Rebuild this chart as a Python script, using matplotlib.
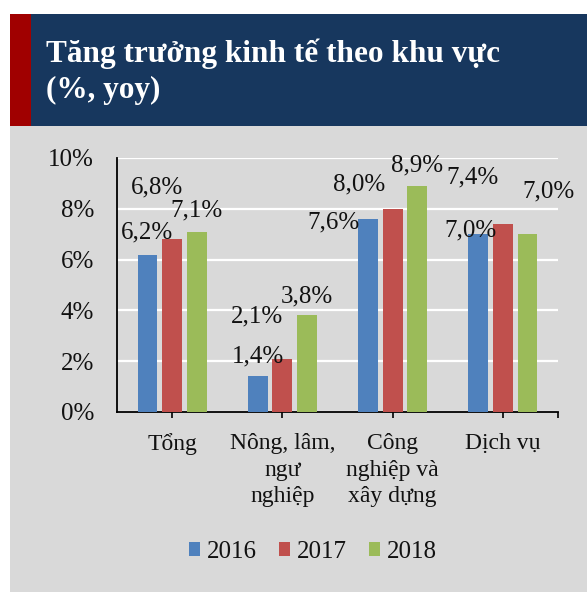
import numpy as np
import matplotlib
matplotlib.use("Agg")
import matplotlib.pyplot as plt
from matplotlib.patches import Rectangle

TITLE_LINES = ["Tăng trưởng kinh tế theo khu vực", "(%, yoy)"]
CATEGORIES = ["Tổng", "Nông, lâm,\nngư\nnghiệp", "Công\nnghiệp và\nxây dựng", "Dịch vụ"]
YEARS = ["2016", "2017", "2018"]
VALUES_2016 = [6.2, 1.4, 7.6, 7.0]
VALUES_2017 = [6.8, 2.1, 8.0, 7.4]
VALUES_2018 = [7.1, 3.8, 8.9, 7.0]
Y_TICKS = [0, 2, 4, 6, 8, 10]

COLORS = ["#4F81BD", "#C0504D", "#9BBB59"]
# hand-dragged data label offsets in pixels (dx, dy from bar top, baseline)
LABEL_OFFSETS = [
    [(-0.5, -16.5), (0, -14), (-35, 9), (-7.5, 2)],
    [(-15, -46), (-25, -36), (-33, -18), (-30, -41)],
    [(0, -15), (0, -13.5), (0, -14), (21.5, -37)],
]

W, H = 587, 592
DPI = 100
PT = 72 / DPI
FONT = "Liberation Serif"
NUM_SIZE = 18
CAT_SIZE = 17
TXT = "#111111"

plt.rcParams["font.family"] = [FONT, "DejaVu Serif"]

fig = plt.figure(figsize=(W / DPI, H / DPI), dpi=DPI, facecolor="white")


def fig_rect(x0, y0, x1, y1, color):
    fig.patches.append(Rectangle((x0 / W, 1 - y1 / H), (x1 - x0) / W, (y1 - y0) / H,
                                 transform=fig.transFigure, color=color, zorder=-10, lw=0))


fig_rect(10, 126, W, H, "#D9D9D9")
fig_rect(10, 14, W, 126, "#17375E")
fig_rect(10, 14, 31, 126, "#A00000")

fig.text(46 / W, 1 - 62 / H, TITLE_LINES[0], color="white", fontsize=22.5,
         fontweight="bold", va="baseline", ha="left")
fig.text(46 / W, 1 - 98 / H, TITLE_LINES[1], color="white", fontsize=22.5,
         fontweight="bold", va="baseline", ha="left")

ax_l, ax_r, ax_t, ax_b = 117, 558, 158, 412
ax = fig.add_axes([ax_l / W, 1 - ax_b / H, (ax_r - ax_l) / W, (ax_b - ax_t) / H])
ax.set_facecolor("none")
ax.set_zorder(2)

x = np.arange(len(CATEGORIES))
width = 0.18
step = 0.223
series = [VALUES_2016, VALUES_2017, VALUES_2018]
for i, (vals, year, col) in enumerate(zip(series, YEARS, COLORS)):
    xs = x + (i - 1) * step
    ax.bar(xs, vals, width=width, color=col, label=year, zorder=3)
    for xi, v, (dx, dy) in zip(xs, vals, LABEL_OFFSETS[i]):
        ax.annotate(f"{v:.1f}%".replace(".", ","), xy=(xi, v),
                    xytext=(dx * PT, -dy * PT), textcoords="offset points",
                    ha="center", va="baseline", fontsize=NUM_SIZE, color=TXT,
                    zorder=4, annotation_clip=False)

ax.set_xlim(-0.5, 3.5)
ax.set_ylim(0, 10)
ax.set_yticks(Y_TICKS)
ax.set_yticklabels([f"{t}%" for t in Y_TICKS], fontsize=NUM_SIZE, color=TXT)
ax.tick_params(axis="y", length=0, pad=16.5)
ax.yaxis.grid(True, color="white", lw=1.6, zorder=1)
ax.set_axisbelow(True)

ax.set_xticks(x)
ax.set_xticklabels(CATEGORIES, fontsize=CAT_SIZE, color=TXT, linespacing=1.36)
ax.set_xticks([3.5], minor=True)
ax.tick_params(axis="x", which="both", length=4, width=1.2, direction="out",
               pad=11, color="black")

for side in ["top", "right"]:
    ax.spines[side].set_visible(False)
for side in ["left", "bottom"]:
    ax.spines[side].set_linewidth(1.3)
    ax.spines[side].set_color("black")

leg = fig.legend(loc="center", bbox_to_anchor=(313 / W, 1 - 552 / H), ncol=3,
                 frameon=False, fontsize=NUM_SIZE, handlelength=0.45, handleheight=0.45,
                 handletextpad=0.3, columnspacing=0.85)
for t in leg.get_texts():
    t.set_color(TXT)

fig.savefig("out.png", dpi=DPI, facecolor="white")
